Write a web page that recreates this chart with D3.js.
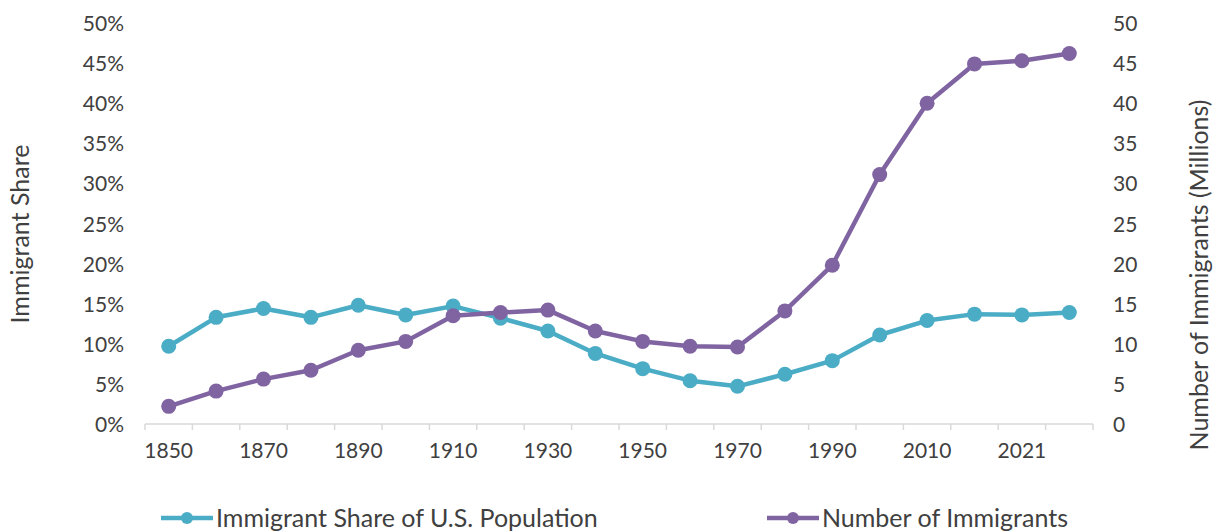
<!DOCTYPE html>
<html>
<head>
<meta charset="utf-8">
<script src="https://cdn.jsdelivr.net/npm/d3@7"></script>
<style>
  body { margin: 0; background: #fff; }
  svg text { font-family: Lato, "Open Sans", sans-serif; fill: #404040; }
</style>
</head>
<body>
<svg id="chart" width="1214" height="531"></svg>
<script>
var years = ["1850","1860","1870","1880","1890","1900","1910","1920","1930","1940",
             "1950","1960","1970","1980","1990","2000","2010","2020","2021","2022"];
var shareValues = [9.7, 13.3, 14.4, 13.3, 14.8, 13.6, 14.7, 13.2, 11.6, 8.8,
                   6.9, 5.4, 4.7, 6.2, 7.9, 11.1, 12.9, 13.7, 13.6, 13.9];
var numberValues = [2.2, 4.1, 5.6, 6.7, 9.2, 10.3, 13.5, 13.9, 14.2, 11.6,
                    10.3, 9.7, 9.6, 14.1, 19.8, 31.1, 40.0, 44.9, 45.3, 46.2];
var leftTicks = [0, 5, 10, 15, 20, 25, 30, 35, 40, 45, 50];
var rightTicks = [0, 5, 10, 15, 20, 25, 30, 35, 40, 45, 50];
var shownYears = ["1850","1870","1890","1910","1930","1950","1970","1990","2010","2021"];

var teal = "#4bacc6", purple = "#8064a2";

var svg = d3.select("#chart");
var plotLeft = 145, plotRight = 1093, plotTop = 23, plotBottom = 424;

var x = d3.scaleBand().domain(years).range([plotLeft, plotRight]);
var yL = d3.scaleLinear().domain([0, 50]).range([plotBottom, plotTop]);
var yR = d3.scaleLinear().domain([0, 50]).range([plotBottom, plotTop]);

// x axis: ticks between categories
var xg = svg.append("g");
xg.append("line")
  .attr("x1", plotLeft).attr("x2", plotRight)
  .attr("y1", plotBottom).attr("y2", plotBottom)
  .attr("stroke", "#d9d9d9").attr("stroke-width", 1.5);
xg.selectAll("line.tick")
  .data(years.concat(["end"]))
  .enter().append("line")
  .attr("class", "tick")
  .attr("x1", (d, i) => plotLeft + i * x.step())
  .attr("x2", (d, i) => plotLeft + i * x.step())
  .attr("y1", plotBottom).attr("y2", plotBottom + 6)
  .attr("stroke", "#d9d9d9").attr("stroke-width", 1.5);
xg.selectAll("text")
  .data(shownYears)
  .enter().append("text")
  .attr("x", d => x(d) + x.bandwidth() / 2)
  .attr("y", plotBottom + 34)
  .attr("text-anchor", "middle")
  .style("font-size", "21px")
  .text(d => d);

// left axis labels
svg.append("g").selectAll("text")
  .data(leftTicks)
  .enter().append("text")
  .attr("x", 124)
  .attr("y", d => yL(d) + 8)
  .attr("text-anchor", "end")
  .style("font-size", "21px")
  .text(d => d + "%");

// right axis labels
svg.append("g").selectAll("text")
  .data(rightTicks)
  .enter().append("text")
  .attr("x", 1113)
  .attr("y", d => yR(d) + 8)
  .attr("text-anchor", "start")
  .style("font-size", "21px")
  .text(d => d);

// axis titles
svg.append("text")
  .attr("transform", "translate(29,234) rotate(-90)")
  .attr("text-anchor", "middle")
  .style("font-size", "25px")
  .text("Immigrant Share");
svg.append("text")
  .attr("transform", "translate(1208,275) rotate(-90)")
  .attr("text-anchor", "middle")
  .style("font-size", "25px")
  .text("Number of Immigrants (Millions)");

function drawSeries(values, scale, color) {
  var cx = (d, i) => x(years[i]) + x.bandwidth() / 2;
  var line = d3.line().x(cx).y(d => scale(d));
  svg.append("path")
    .datum(values)
    .attr("d", line)
    .attr("fill", "none")
    .attr("stroke", color)
    .attr("stroke-width", 4.5)
    .attr("stroke-linejoin", "round");
  svg.append("g").selectAll("circle")
    .data(values)
    .enter().append("circle")
    .attr("cx", cx)
    .attr("cy", d => scale(d))
    .attr("r", 7.5)
    .attr("fill", color);
}

drawSeries(shareValues, yL, teal);
drawSeries(numberValues, yR, purple);

// legend
var legend = [
  {name: "Immigrant Share of U.S. Population", color: teal, x: 161},
  {name: "Number of Immigrants", color: purple, x: 767}
];
var lg = svg.append("g").selectAll("g")
  .data(legend)
  .enter().append("g")
  .attr("transform", d => "translate(" + d.x + ",518)");
lg.append("line")
  .attr("x1", 0).attr("x2", 52)
  .attr("stroke", d => d.color).attr("stroke-width", 4.5);
lg.append("circle")
  .attr("cx", 26).attr("r", 6)
  .attr("fill", d => d.color);
lg.append("text")
  .attr("x", 55).attr("y", 9)
  .style("font-size", "25px")
  .text(d => d.name);
</script>
</body>
</html>
